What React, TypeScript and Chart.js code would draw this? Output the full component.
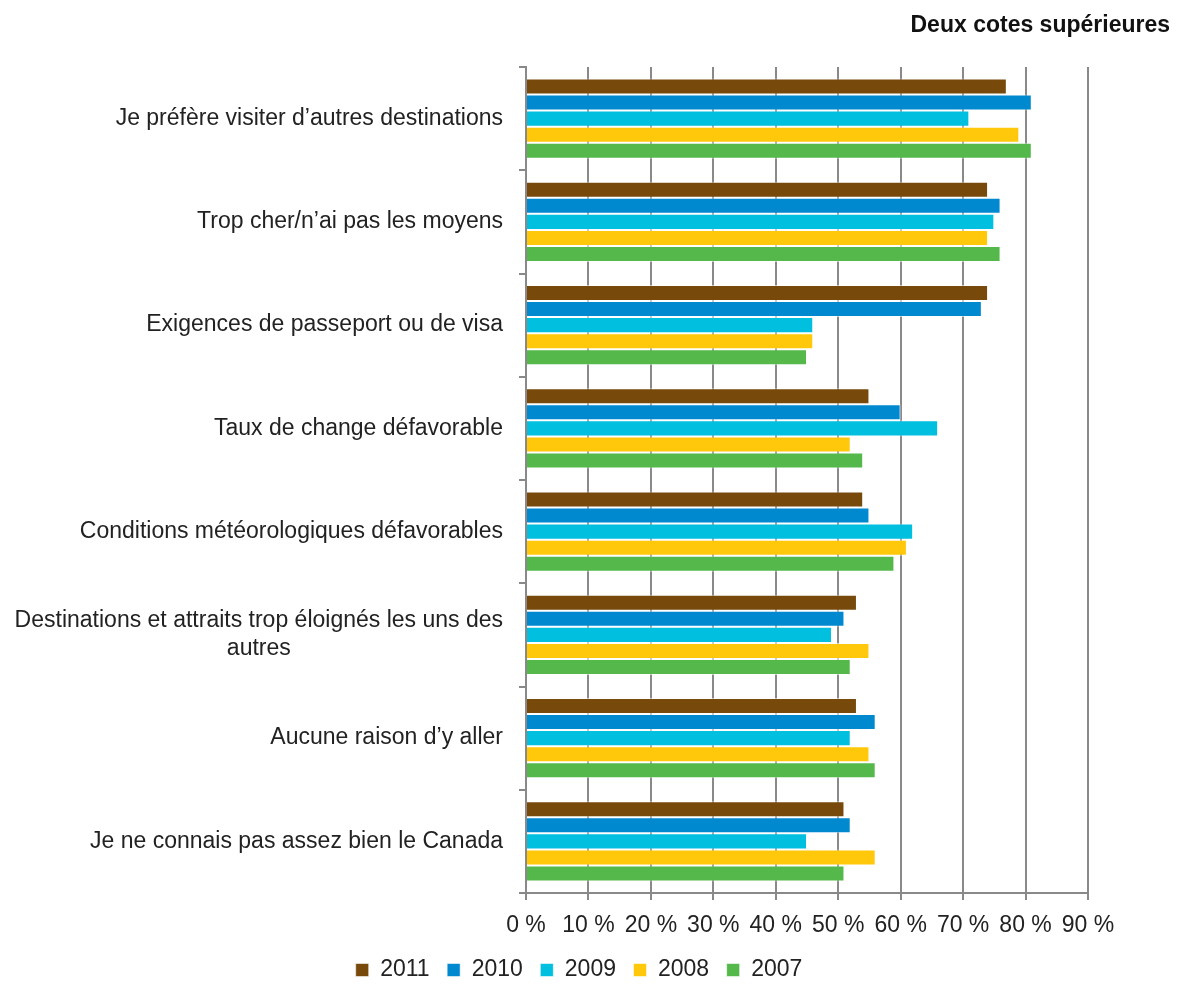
import React, { useEffect, useRef } from "react";
import { Chart, registerables } from "chart.js";

Chart.register(...registerables);

const categories: string[][] = [
  ["Je préfère visiter d’autres destinations"],
  ["Trop cher/n’ai pas les moyens"],
  ["Exigences de passeport ou de visa"],
  ["Taux de change défavorable"],
  ["Conditions météorologiques défavorables"],
  ["Destinations et attraits trop éloignés les uns des", "autres"],
  ["Aucune raison d’y aller"],
  ["Je ne connais pas assez bien le Canada"],
];

const series2011 = [77, 74, 74, 55, 54, 53, 53, 51];
const series2010 = [81, 76, 73, 60, 55, 51, 56, 52];
const series2009 = [71, 75, 46, 66, 62, 49, 52, 45];
const series2008 = [79, 74, 46, 52, 61, 55, 55, 56];
const series2007 = [81, 76, 45, 54, 59, 52, 56, 51];

const seriesNames = ["2011", "2010", "2009", "2008", "2007"];
const seriesColors = ["#774A0C", "#0089CF", "#00BFDF", "#FFC80A", "#55B84B"];
const xTicks = [0, 10, 20, 30, 40, 50, 60, 70, 80, 90];
const titleText = "Deux cotes supérieures";

const FONT = "'Liberation Sans', Arial, sans-serif";
const GRID = "#898989";
const TEXT = "#222";

const labelPlugin = {
  id: "centeredCategoryLabels",
  afterDraw(chart: any) {
    const y = chart.scales.y;
    const ctx = chart.ctx;
    ctx.save();
    ctx.font = `23px ${FONT}`;
    ctx.fillStyle = TEXT;
    ctx.textAlign = "center";
    ctx.textBaseline = "middle";
    const right = chart.chartArea.left - 23;
    const lh = 28;
    categories.forEach((lines, i) => {
      const cy = y.getPixelForValue(i);
      const w = Math.max(...lines.map((l) => ctx.measureText(l).width));
      const cx = right - w / 2;
      const top = cy - ((lines.length - 1) * lh) / 2;
      lines.forEach((l, j) => ctx.fillText(l, cx, top + j * lh));
    });
    ctx.font = `bold 23px ${FONT}`;
    ctx.textAlign = "right";
    ctx.textBaseline = "alphabetic";
    ctx.fillStyle = "#111";
    ctx.fillText(titleText, chart.width - 3, 24);
    ctx.restore();
  },
};

export default function App() {
  const ref = useRef<HTMLCanvasElement>(null);
  useEffect(() => {
    if (!ref.current) return;
    const data = [series2011, series2010, series2009, series2008, series2007];
    const chart = new Chart(ref.current, {
      type: "bar",
      data: {
        labels: categories.map((c) => c.join(" ")),
        datasets: seriesNames.map((n, i) => ({
          label: n,
          data: data[i],
          backgroundColor: seriesColors[i],
          borderColor: "rgba(255,255,255,0.55)",
          borderWidth: 1,
          barPercentage: 1,
          categoryPercentage: 0.775,
        })),
      },
      options: {
        indexAxis: "y",
        animation: false,
        responsive: true,
        maintainAspectRatio: false,
        layout: { padding: { left: 62, right: 85, top: 59, bottom: 0 } },
        scales: {
          x: {
            min: 0,
            max: 90,
            afterBuildTicks: (s: any) => {
              s.ticks = xTicks.map((v) => ({ value: v }));
            },
            afterFit: (s: any) => {
              s.height = 48;
            },
            ticks: {
              callback: (v: any) => `${v} %`,
              font: { family: FONT, size: 23 },
              color: TEXT,
              padding: 12,
              maxRotation: 0,
              autoSkip: false,
            },
            grid: { color: GRID, lineWidth: 2, tickLength: 7 },
            border: { color: GRID, width: 2 },
          },
          y: {
            offset: true,
            ticks: { display: false },
            grid: {
              offset: true,
              drawOnChartArea: false,
              drawTicks: true,
              tickLength: 7,
              color: GRID,
              lineWidth: 2,
            },
            border: { color: GRID, width: 2 },
            afterFit: (s: any) => {
              s.width = 456;
            },
          },
        },
        plugins: {
          title: { display: false },
          legend: {
            position: "bottom",
            maxHeight: 38,
            labels: {
              boxWidth: 13,
              boxHeight: 13,
              padding: 17.5,
              color: TEXT,
              font: { family: FONT, size: 23 },
            },
          },
          tooltip: { enabled: false },
        },
      },
      plugins: [labelPlugin],
    });
    return () => chart.destroy();
  }, []);
  return (
    <div style={{ width: 1165, height: 971, position: "relative" }}>
      <canvas ref={ref} />
    </div>
  );
}
